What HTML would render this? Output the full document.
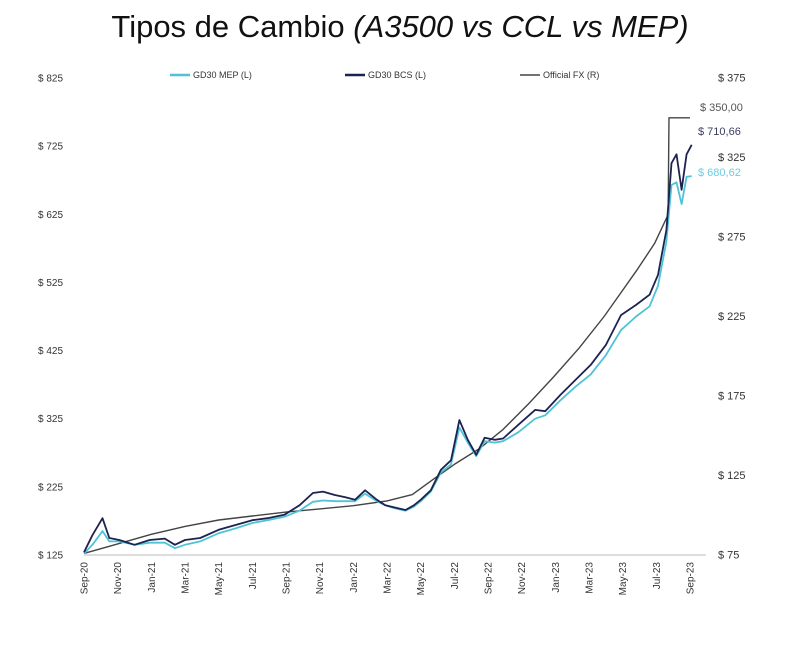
<!DOCTYPE html>
<html><head><meta charset="utf-8">
<style>
body{margin:0;background:#fff;width:800px;height:650px;overflow:hidden;font-family:"Liberation Sans",sans-serif;}
svg text{font-family:"Liberation Sans",sans-serif;}
</style></head>
<body>
<svg id="chart" width="800" height="650" viewBox="0 0 800 650" xmlns="http://www.w3.org/2000/svg">
<text x="400" y="37" text-anchor="middle" font-size="31" fill="#111">Tipos de Cambio <tspan font-style="italic">(A3500 vs CCL vs MEP)</tspan></text>
<g font-size="9" fill="#333">
<line x1="170" y1="75" x2="190" y2="75" stroke="#4fc3d6" stroke-width="2.5"/>
<text x="193" y="78">GD30 MEP (L)</text>
<line x1="345" y1="75" x2="365" y2="75" stroke="#1d2350" stroke-width="2.5"/>
<text x="368" y="78">GD30 BCS (L)</text>
<line x1="520" y1="75" x2="540" y2="75" stroke="#444" stroke-width="1.5"/>
<text x="543" y="78">Official FX (R)</text>
</g>
</svg>
<script>
const xLabels=["Sep-20","Nov-20","Jan-21","Mar-21","May-21","Jul-21","Sep-21","Nov-21","Jan-22","Mar-22","May-22","Jul-22","Sep-22","Nov-22","Jan-23","Mar-23","May-23","Jul-23","Sep-23"];
const leftTicks=[125,225,325,425,525,625,725,825];
const rightTicks=[75,125,175,225,275,325,375];
// months since Sep-2020
const bcsT=[0,0.5,1.1,1.5,2.1,3.0,3.9,4.8,5.4,6.0,6.9,8.0,9.0,10.0,10.9,11.9,12.8,13.6,14.2,14.9,15.5,16.1,16.7,17.4,17.9,18.4,19.1,19.6,20.0,20.6,21.2,21.8,22.3,22.8,23.3,23.8,24.4,24.9,25.8,26.8,27.4,28.3,29.2,30.1,31.0,31.9,32.8,33.6,34.1,34.6,34.9,35.2,35.5,35.8,36.1];
const bcsV=[129,154,179,150,147,140,147,149,140,147,150,162,169,176,179,184,198,216,218,213,210,206,220,206,198,195,191,198,206,220,250,264,323,294,272,297,294,296,316,338,336,360,382,404,433,477,492,507,536,602,700,713,661,713,727];
const mepT=[0,0.5,1.1,1.5,2.1,3.0,3.9,4.8,5.4,6.0,6.9,8.0,9.0,10.0,10.9,11.9,12.8,13.6,14.2,14.9,15.5,16.1,16.7,17.4,17.9,18.4,19.1,19.6,20.0,20.6,21.2,21.8,22.3,22.8,23.3,23.8,24.4,24.9,25.8,26.8,27.4,28.3,29.2,30.1,31.0,31.9,32.8,33.6,34.1,34.6,34.9,35.2,35.5,35.8,36.1];
const mepV=[127,140,160,145,145,140,143,143,135,140,145,157,164,172,176,181,190,203,205,204,204,204,215,204,198,194,190,196,204,218,246,258,312,290,270,292,290,292,305,325,330,352,372,390,418,455,475,490,520,585,668,672,640,680,681];
const offT=[0,2,4,6,8,10,12,14,16,18,19.5,20.8,22,23.5,24.9,26.4,27.9,29.4,30.9,31.9,32.9,33.9,34.7,34.75,36.0];
const offV=[76,82,88,93,97,99.5,102,104,106,109,113,123,132,142,154,170,187,205,225,240,255,271,289,350,350];
const X0=84,X1=690,M=36;
const x=t=>X0+(X1-X0)*t/M;
const yL=v=>555-(v-125)/700*477;
const yR=v=>555-(v-75)/300*477;
const svg=document.getElementById('chart');
const NS='http://www.w3.org/2000/svg';
function mk(tag,attrs){const e=document.createElementNS(NS,tag);for(const k in attrs)e.setAttribute(k,attrs[k]);svg.appendChild(e);return e;}
let ax=mk('line',{x1:X0,y1:555,x2:706,y2:555,stroke:'#ddd','stroke-width':2});


xLabels.forEach((l,i)=>{const xx=x(i*2);
 let t=mk('text',{x:0,y:0,'font-size':10,fill:'#333','text-anchor':'end',transform:`translate(${xx+3.5},562) rotate(-90)`});t.textContent=l;
 
 });
leftTicks.forEach(v=>{let t=mk('text',{x:38,y:yL(v)+3.5,'font-size':10,fill:'#333'});t.textContent='$ '+v;
 
 });
rightTicks.forEach(v=>{let t=mk('text',{x:718,y:yR(v)+3.5,'font-size':11,fill:'#333'});t.textContent='$ '+v;
 
 });
function line(T,V,yf,col,w,name){const d=T.map((t,i)=>(i?'L':'M')+x(t).toFixed(1)+','+yf(V[i]).toFixed(1)).join('');
 const p=mk('path',{d:d,fill:'none',stroke:col,'stroke-width':w,'stroke-linejoin':'round'});
 
 }
line(offT,offV,yR,'#444',1.4,'official-fx-line');
line(mepT,mepV,yL,'#4fc3d6',1.8,'mep-line');
line(bcsT,bcsV,yL,'#1d2350',1.8,'bcs-line');
const lab=[["$ 350,00",700,111,'#555','official-last-label'],["$ 710,66",698,135,'#3a3d60','bcs-last-label'],["$ 680,62",698,176,'#6ccde0','mep-last-label']];
lab.forEach(a=>{let t=mk('text',{x:a[1],y:a[2],'font-size':11,fill:a[3]});t.textContent=a[0];
 
 });
</script>
</body></html>
